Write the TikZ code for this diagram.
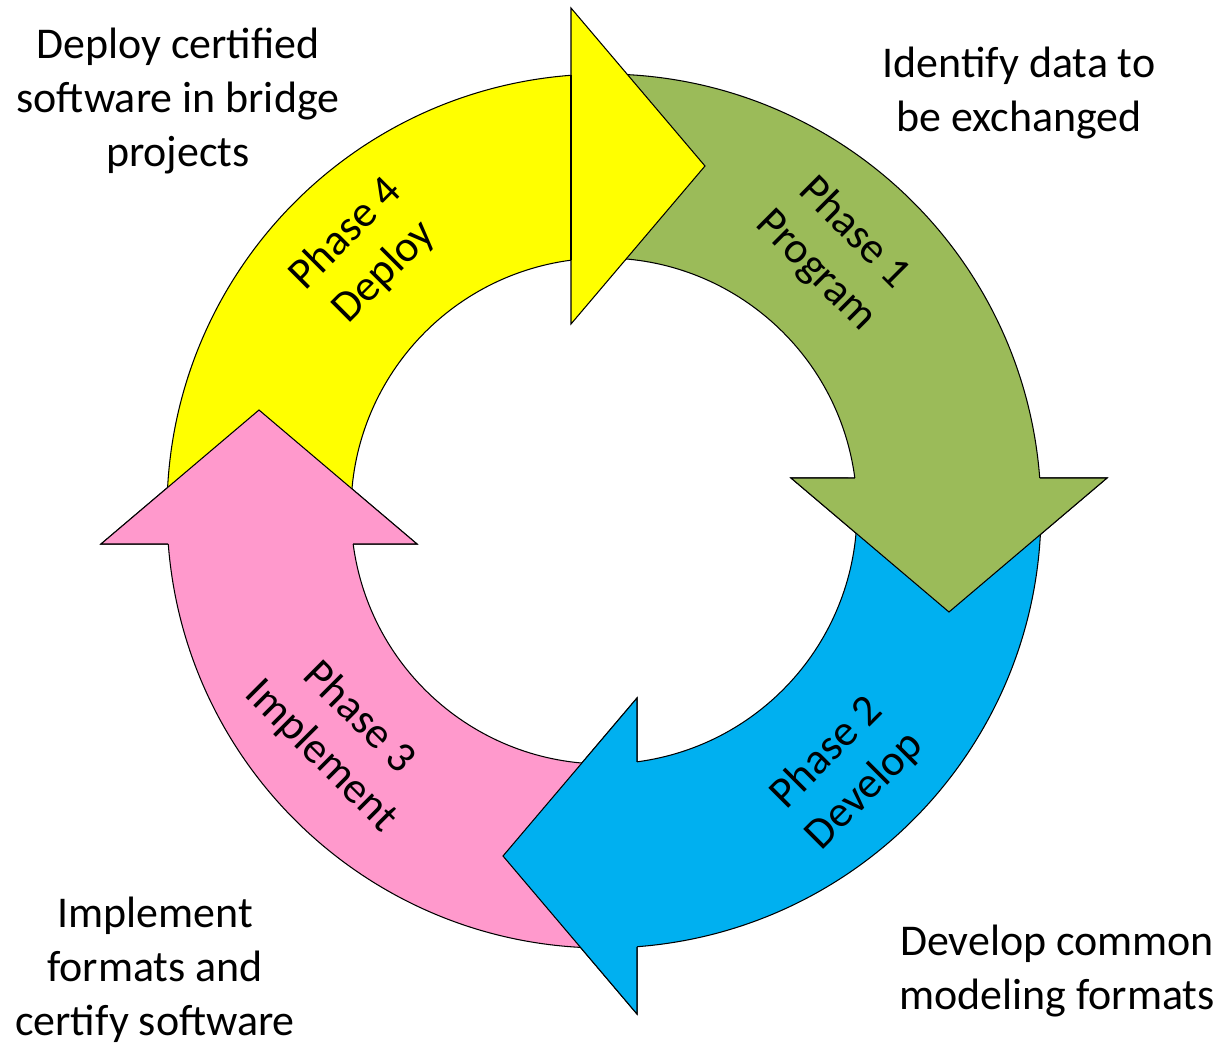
\documentclass[tikz,border=0pt]{standalone}
\usepackage{fontspec}
\setmainfont{Carlito}
\usepackage{xcolor}
\definecolor{phasegreen}{HTML}{9BBB59}
\definecolor{phaseblue}{HTML}{00B0F0}
\definecolor{phasepink}{HTML}{FF99CC}
\definecolor{phaseyellow}{HTML}{FFFF00}

\begin{document}
\begin{tikzpicture}[x=0.02cm,y=0.02cm,line width=0.6pt,
    arrow body/.style={draw=black,fill=#1},
    phase label/.style={font=\fontsize{25}{30.6}\selectfont,align=center},
    note/.style={font=\fontsize{25}{30.6}\selectfont,align=center}]
    \useasboundingbox (-604,-531) rectangle (619,511);

    % the four circular arrows, clockwise from the top
    \foreach \rot/\col in {0/phasegreen,-90/phaseblue,-180/phasepink,-270/phaseyellow}
        \draw[arrow body=\col,rotate=\rot] (90:437) arc[start angle=90,end angle=4.33,radius=437]
            -- (503,33) -- (345,-101) -- (187,33) -- (7.49:253)
            arc[start angle=7.49,end angle=90,radius=253] -- cycle;

    % heads once more, over the tail of the next arrow
    \foreach \rot/\col in {0/phasegreen,-90/phaseblue,-180/phasepink}{
        \fill[\col,rotate=\rot] (187,33) -- (345,-101) -- (503,33) -- cycle;
        \draw[rotate=\rot] (435.8,33) -- (503,33) -- (345,-101) -- (187,33) -- (250.8,33);
    }
    \draw[rotate=-270] (250.8,33) -- (435.8,33);

    \node[phase label,rotate=-45] (p1) at (231,259) {Phase 1\\Program};
    \node[phase label,rotate=45] (p2) at (242,-261) {Phase 2\\Develop};
    \node[phase label,rotate=-45] (p3) at (-264,-226) {Phase 3\\Implement};
    \node[phase label,rotate=45] (p4) at (-239,258) {Phase 4\\Deploy};

    \node[note] (n1) at (415,418) {Identify data to\\be exchanged};
    \node[note] (n2) at (453,-460) {Develop common\\modeling formats};
    \node[note] (n3) at (-449,-459) {Implement\\formats and\\certify software};
    \node[note] (n4) at (-426,410) {Deploy certified\\software in bridge\\projects};
\end{tikzpicture}
\end{document}
